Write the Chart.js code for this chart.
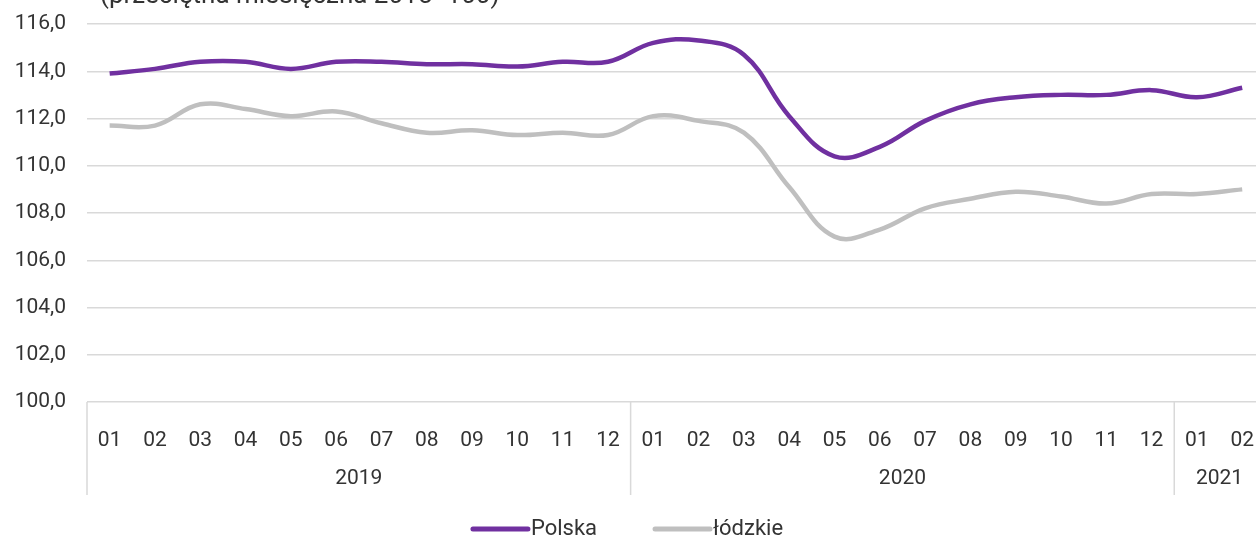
<!DOCTYPE html>
<html lang="pl">
<head>
<meta charset="utf-8">
<title>Wskaźnik</title>
<script src="https://cdn.jsdelivr.net/npm/chart.js@4.4.0/dist/chart.umd.min.js"></script>
<style>
    html, body { margin: 0; padding: 0; background: #ffffff; overflow: hidden; }
    #wrap { width: 1272px; height: 540px; }
</style>
</head>
<body>
<div id="wrap"><canvas id="wykres" width="1272" height="540"></canvas></div>
<script>
// Dane
const miesiace = ['01', '02', '03', '04', '05', '06', '07', '08', '09', '10', '11', '12',
                  '01', '02', '03', '04', '05', '06', '07', '08', '09', '10', '11', '12',
                  '01', '02'];
const lata = ['2019', '2020', '2021'];
const miesiaceWRoku = [12, 12, 2];
const polska = [113.9, 114.1, 114.4, 114.4, 114.1, 114.4, 114.4, 114.3, 114.3, 114.2, 114.4, 114.4,
                115.2, 115.3, 114.7, 112.1, 110.4, 110.8, 111.9, 112.6, 112.9, 113.0, 113.0, 113.2,
                112.9, 113.3];
const lodzkie = [111.7, 111.7, 112.6, 112.4, 112.1, 112.3, 111.8, 111.4, 111.5, 111.3, 111.4, 111.3,
                 112.1, 111.9, 111.4, 109.1, 107.0, 107.3, 108.2, 108.6, 108.9, 108.7, 108.4, 108.8,
                 108.8, 109.0];
const yMin = 100;
const yMax = 116;
const yKrok = 2;
const podtytul = '(przeciętna miesięczna 2015=100)';

const czcionka = "'Roboto', 'Noto Sans', sans-serif";
const kolorTekstu = '#333333';
const kolorSiatki = '#d9d9d9';

document.addEventListener('DOMContentLoaded', function() {
    inicjujWykres();
});

// Lata pod osią X, linie podziału, podtytuł i legenda
const dekoracje = {
    id: 'dekoracje',
    afterDraw(chart) {
        const ctx = chart.ctx;
        const x = chart.scales.x;
        const area = chart.chartArea;
        const krok = x.getPixelForValue(1) - x.getPixelForValue(0);

        ctx.save();
        ctx.strokeStyle = kolorSiatki;
        ctx.lineWidth = 1.5;
        ctx.fillStyle = kolorTekstu;
        ctx.font = '21px ' + czcionka;
        ctx.textAlign = 'center';
        ctx.textBaseline = 'middle';

        let start = 0;
        lata.forEach((rok, i) => {
            const lewy = x.getPixelForValue(start) - krok / 2;
            const prawy = x.getPixelForValue(start + miesiaceWRoku[i] - 1) + krok / 2;
            ctx.beginPath();
            ctx.moveTo(lewy, area.bottom);
            ctx.lineTo(lewy, area.bottom + 93);
            ctx.stroke();
            ctx.fillText(rok, (lewy + prawy) / 2, area.bottom + 77);
            start += miesiaceWRoku[i];
        });

        // podtytul (obciety u gory)
        ctx.textAlign = 'left';
        ctx.textBaseline = 'alphabetic';
        ctx.font = '26px ' + czcionka;
        ctx.fillText(podtytul, 100, 3);

        // legenda
        ctx.font = '22px ' + czcionka;
        ctx.textBaseline = 'middle';
        const y = 529;
        const dlugosc = 55;
        const odstep = 3;
        const przerwa = 58;
        const zestawy = chart.data.datasets;
        let szer = 0;
        zestawy.forEach((ds, i) => {
            szer += dlugosc + odstep + ctx.measureText(ds.label).width;
            if (i < zestawy.length - 1) szer += przerwa;
        });
        let px = 628 - szer / 2;
        zestawy.forEach(ds => {
            ctx.strokeStyle = ds.borderColor;
            ctx.lineWidth = 5;
            ctx.lineCap = 'round';
            ctx.beginPath();
            ctx.moveTo(px, y);
            ctx.lineTo(px + dlugosc, y);
            ctx.stroke();
            ctx.fillText(ds.label, px + dlugosc + odstep, y);
            px += dlugosc + odstep + ctx.measureText(ds.label).width + przerwa;
        });
        ctx.restore();
    }
};

function inicjujWykres() {
    const ctx = document.getElementById('wykres').getContext('2d');

    new Chart(ctx, {
        type: 'line',
        data: {
            labels: miesiace,
            datasets: [{
                label: 'Polska',
                data: polska,
                borderColor: '#7030a0',
                borderWidth: 4.5,
                tension: 0.4,
                pointRadius: 0,
                fill: false
            }, {
                label: 'łódzkie',
                data: lodzkie,
                borderColor: '#bfbfbf',
                borderWidth: 4.5,
                tension: 0.4,
                pointRadius: 0,
                fill: false
            }]
        },
        options: {
            responsive: false,
            animation: false,
            layout: {
                padding: { top: 24, right: 0, bottom: 0, left: 0 }
            },
            plugins: {
                legend: { display: false },
                tooltip: { enabled: false }
            },
            scales: {
                x: {
                    offset: true,
                    grid: { display: false },
                    border: { display: false },
                    ticks: {
                        color: kolorTekstu,
                        font: { family: czcionka, size: 21 },
                        padding: 18,
                        maxRotation: 0,
                        autoSkip: false
                    },
                    afterFit: function(scale) {
                        scale.height = 138;
                    }
                },
                y: {
                    min: yMin,
                    max: yMax,
                    grid: {
                        color: kolorSiatki,
                        lineWidth: 1.5,
                        drawTicks: true,
                        tickLength: 21,
                        tickColor: 'rgba(0,0,0,0)'
                    },
                    border: { display: false },
                    ticks: {
                        stepSize: yKrok,
                        color: kolorTekstu,
                        font: { family: czcionka, size: 21 },
                        padding: 0,
                        callback: function(value) {
                            return value.toFixed(1).replace('.', ',');
                        }
                    },
                    afterFit: function(scale) {
                        scale.width = 87;
                    }
                }
            }
        },
        plugins: [dekoracje]
    });
}
</script>
</body>
</html>
